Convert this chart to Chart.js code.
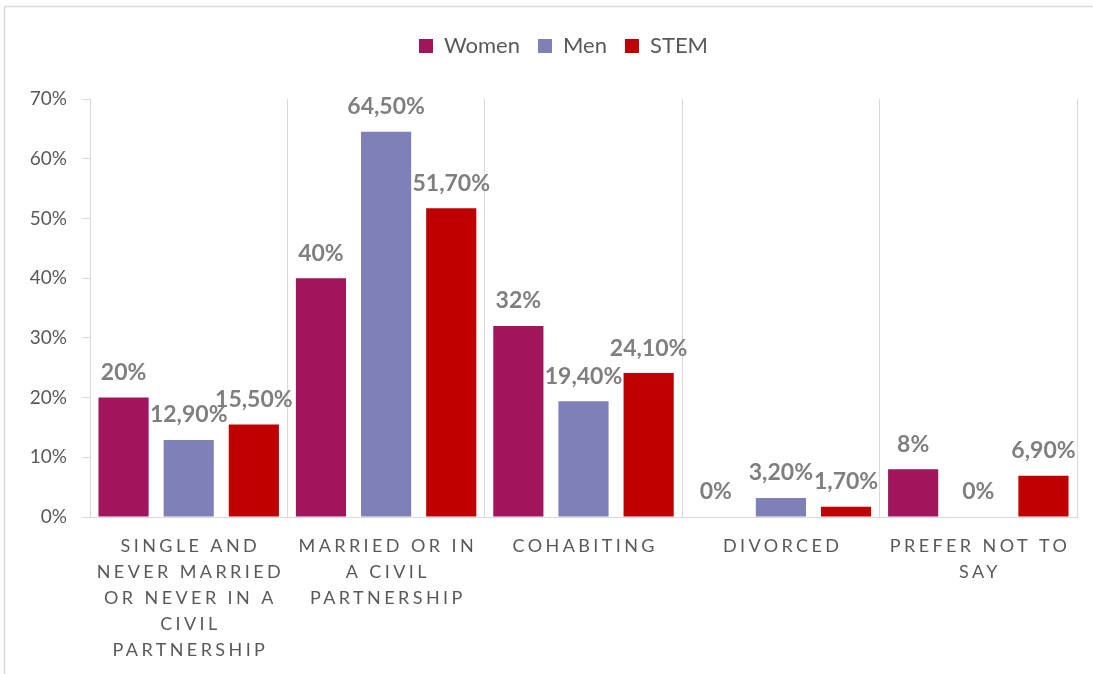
<!DOCTYPE html>
<html>
<head>
    <title>Relationship status</title>
    <script src="https://cdn.jsdelivr.net/npm/chart.js"></script>
    <style>
        body { margin: 0; background: #fff; }
    </style>
</head>
<body>
    <canvas id="Chart" width="1093" height="674"></canvas>
    <script>
        // 카테고리 (줄바꿈 포함)
        const categories = [
            ['SINGLE AND', 'NEVER MARRIED', 'OR NEVER IN A', 'CIVIL', 'PARTNERSHIP'],
            ['MARRIED OR IN', 'A CIVIL', 'PARTNERSHIP'],
            ['COHABITING'],
            ['DIVORCED'],
            ['PREFER NOT TO', 'SAY']
        ];
        const women = [20, 40, 32, 0, 8];
        const men = [12.9, 64.5, 19.4, 3.2, 0];
        const stem = [15.5, 51.7, 24.1, 1.7, 6.9];
        const yTicks = [0, 10, 20, 30, 40, 50, 60, 70];

        const textColor = '#595959';
        const lineColor = '#d9d9d9';

        function fmt(v) {
            return Number.isInteger(v) ? v + '%' : v.toFixed(2).replace('.', ',') + '%';
        }

        // 바깥 테두리 + 배경
        const framePlugin = {
            id: 'frame',
            beforeDraw(chart) {
                const c = chart.ctx;
                c.save();
                c.fillStyle = '#fff';
                c.fillRect(0, 0, chart.width, chart.height);
                c.strokeStyle = lineColor;
                c.lineWidth = 1.5;
                c.beginPath();
                c.moveTo(4.5, chart.height);
                c.lineTo(4.5, 6.5);
                c.lineTo(chart.width, 6.5);
                c.stroke();
                c.restore();
            }
        };

        // 막대 위 값 라벨
        const valueLabels = {
            id: 'valueLabels',
            afterDatasetsDraw(chart) {
                const c = chart.ctx;
                c.save();
                c.font = 'bold 23px Lato';
                c.fillStyle = '#7f7f7f';
                c.textAlign = 'center';
                c.textBaseline = 'middle';
                chart.data.datasets.forEach((ds, i) => {
                    chart.getDatasetMeta(i).data.forEach((bar, j) => {
                        c.fillText(fmt(ds.data[j]), bar.x, bar.y - 25);
                    });
                });
                c.restore();
            }
        };

        // x축 라벨 (자간 넓게)
        const xLabels = {
            id: 'xLabels',
            afterDraw(chart) {
                const c = chart.ctx;
                const xs = chart.scales.x;
                const ls = 3.4;
                c.save();
                c.font = '18px Lato';
                c.fillStyle = textColor;
                c.textAlign = 'center';
                c.textBaseline = 'middle';
                c.letterSpacing = ls + 'px';
                categories.forEach((lines, i) => {
                    const x = xs.getPixelForTick(i) + ls / 2;
                    lines.forEach((t, k) => {
                        c.fillText(t, x, xs.top + 29 + k * 26);
                    });
                });
                c.restore();
            }
        };

        // 범례 아래 여백, 범례 약간 오른쪽으로
        const legendGap = {
            id: 'legendGap',
            beforeInit(chart) {
                const fit = chart.legend.fit;
                chart.legend.fit = function () {
                    fit.bind(chart.legend)();
                    this.height += 32;
                };
            },
            afterLayout(chart) {
                chart.legend.left += 25;
                chart.legend.right += 25;
            }
        };

        Chart.defaults.font.family = 'Lato';

        var ctx = document.getElementById('Chart').getContext('2d');
        var chart = new Chart(ctx, {
            type: 'bar',
            data: {
                labels: categories.map(l => l.join(' ')),
                datasets: [
                    { label: 'Women', data: women, backgroundColor: '#a0155c' },
                    { label: 'Men', data: men, backgroundColor: '#7f80b8' },
                    { label: 'STEM', data: stem, backgroundColor: '#c00000' }
                ]
            },
            options: {
                responsive: false,
                animation: false,
                layout: { padding: { top: 17, right: 16, left: 0, bottom: 0 } },
                datasets: {
                    bar: { categoryPercentage: 0.99, barPercentage: 0.77 }
                },
                plugins: {
                    legend: {
                        position: 'top',
                        labels: {
                            boxWidth: 14,
                            boxHeight: 14,
                            padding: 18,
                            color: textColor,
                            font: { size: 22 }
                        }
                    },
                    tooltip: { enabled: false }
                },
                scales: {
                    x: {
                        grid: { color: lineColor, drawTicks: false, offset: true },
                        border: { color: lineColor },
                        ticks: { display: false },
                        afterFit(s) { s.height = 157; }
                    },
                    y: {
                        min: 0,
                        max: 70,
                        afterBuildTicks(s) { s.ticks = yTicks.map(v => ({ value: v })); },
                        grid: { drawOnChartArea: false, color: lineColor, tickLength: 8 },
                        border: { color: lineColor },
                        ticks: {
                            color: textColor,
                            font: { size: 19 },
                            padding: 15,
                            callback: v => v + '%'
                        },
                        afterFit(s) { s.width = 90; }
                    }
                }
            },
            plugins: [framePlugin, valueLabels, xLabels, legendGap]
        });
    </script>
</body>
</html>
